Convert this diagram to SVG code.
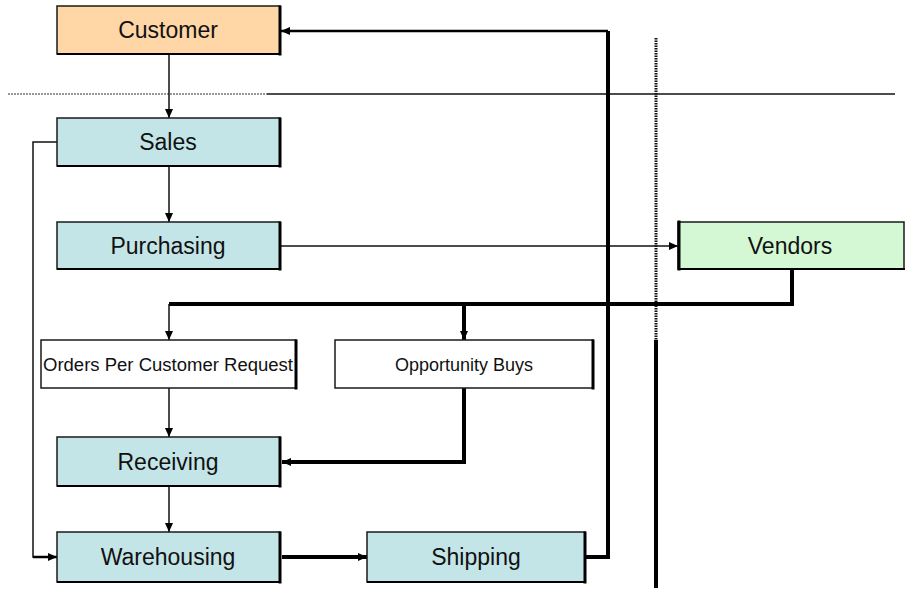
<svg xmlns="http://www.w3.org/2000/svg" width="907" height="592" viewBox="0 0 907 592">
  <style>
    .box { stroke: #1a1a1a; stroke-width: 1.5; }
    .shadow { fill: none; stroke: #000; stroke-linecap: square; }
    .peach { fill: #FFD6A6; }
    .cyan { fill: #C4E5E8; }
    .green { fill: #D3F8D3; }
    .plain { fill: #FFFFFF; }
    .label { font-family: "Liberation Sans", Arial, sans-serif; font-size: 23px; fill: #111; text-anchor: middle; }
    .small { font-size: 18px; }
    .thin { fill: none; stroke: #111; stroke-width: 1.5; }
    .thick { fill: none; stroke: #000; stroke-width: 4; }
    .mid { fill: none; stroke: #000; stroke-width: 2.5; }
  </style>
  <defs>
    <marker id="arrow" markerUnits="userSpaceOnUse" markerWidth="10" markerHeight="10" viewBox="0 0 10 10" refX="9" refY="5" orient="auto">
      <path d="M0,1 L9,5 L0,9 Z" fill="#000"/>
    </marker>
  </defs>

  <!-- separator lines -->
  <g id="separators">
    <line x1="8" y1="94" x2="267" y2="94" stroke="#333" stroke-width="1.2" stroke-dasharray="2,1"/>
    <line x1="267" y1="94" x2="895" y2="94" stroke="#111" stroke-width="1.5"/>
    <line x1="656" y1="38" x2="656" y2="340" stroke="#111" stroke-width="3" stroke-dasharray="1.5,1"/>
    <line x1="656" y1="340" x2="656" y2="588" stroke="#000" stroke-width="4"/>
  </g>

  <!-- connectors -->
  <g id="connectors">
    <line class="thin" x1="169" y1="54" x2="169" y2="118" marker-end="url(#arrow)"/>
    <line class="thin" x1="169" y1="166" x2="169" y2="222" marker-end="url(#arrow)"/>
    <line class="thin" x1="281" y1="246" x2="678" y2="246" marker-end="url(#arrow)"/>
    <path class="thick" d="M792 269 V304 H169"/>
    <line class="thin" x1="169" y1="304" x2="169" y2="340" marker-end="url(#arrow)"/>
    <line class="thick" x1="464" y1="304" x2="464" y2="340" marker-end="url(#arrow)"/>
    <line class="thin" x1="169" y1="388" x2="169" y2="437" marker-end="url(#arrow)"/>
    <path class="thick" d="M464 388 V462 H282" marker-end="url(#arrow)"/>
    <line class="thin" x1="169" y1="486" x2="169" y2="532" marker-end="url(#arrow)"/>
    <path class="thin" d="M57 142 H33 V557 H45"/>
    <line class="mid" x1="33" y1="557" x2="57" y2="557" marker-end="url(#arrow)"/>
    <line class="thick" x1="282" y1="557" x2="367" y2="557" marker-end="url(#arrow)"/>
    <path class="thick" d="M586 557 H608 V31"/>
    <line class="mid" x1="608" y1="31" x2="281" y2="31" marker-end="url(#arrow)"/>
  </g>

  <!-- nodes -->
  <g id="customer">
    <rect class="box peach" x="57" y="6" width="223" height="48"/>
    <path class="shadow" stroke-width="3" d="M280 7 V54"/>
    <path class="shadow" stroke-width="2" d="M58 54 H280"/>
    <text class="label" x="168" y="38">Customer</text>
  </g>
  <g id="sales">
    <rect class="box cyan" x="57" y="118" width="223" height="48"/>
    <path class="shadow" stroke-width="3" d="M280 119 V166"/>
    <path class="shadow" stroke-width="2" d="M58 166 H280"/>
    <text class="label" x="168" y="150">Sales</text>
  </g>
  <g id="purchasing">
    <rect class="box cyan" x="57" y="222" width="223" height="47"/>
    <path class="shadow" stroke-width="3" d="M280 223 V269"/>
    <path class="shadow" stroke-width="2" d="M58 269 H280"/>
    <text class="label" x="168" y="254">Purchasing</text>
  </g>
  <g id="vendors">
    <rect class="box green" x="678" y="222" width="226" height="47"/>
    <path class="shadow" stroke-width="3" d="M679 222 V269"/>
    <path class="shadow" stroke-width="2" d="M679 269 H904"/>
    <text class="label" x="790" y="254">Vendors</text>
  </g>
  <g id="orders">
    <rect class="box plain" x="41" y="340" width="255" height="48"/>
    <path class="shadow" stroke-width="3" d="M296 341 V388"/>
    <text class="label small" x="168" y="371" textLength="250" lengthAdjust="spacingAndGlyphs">Orders Per Customer Request</text>
  </g>
  <g id="opportunity">
    <rect class="box plain" x="335" y="340" width="258" height="48"/>
    <path class="shadow" stroke-width="3" d="M593 341 V388"/>
    <text class="label small" x="464" y="371">Opportunity Buys</text>
  </g>
  <g id="receiving">
    <rect class="box cyan" x="57" y="437" width="223" height="49"/>
    <path class="shadow" stroke-width="3" d="M280 438 V486"/>
    <path class="shadow" stroke-width="2" d="M58 486 H280"/>
    <text class="label" x="168" y="470">Receiving</text>
  </g>
  <g id="warehousing">
    <rect class="box cyan" x="57" y="532" width="223" height="50"/>
    <path class="shadow" stroke-width="3" d="M280 533 V582"/>
    <path class="shadow" stroke-width="2" d="M58 582 H280"/>
    <text class="label" x="168" y="565">Warehousing</text>
  </g>
  <g id="shipping">
    <rect class="box cyan" x="367" y="532" width="218" height="50"/>
    <path class="shadow" stroke-width="3" d="M585 533 V582"/>
    <path class="shadow" stroke-width="2" d="M368 582 H585"/>
    <text class="label" x="476" y="565">Shipping</text>
  </g>
</svg>
